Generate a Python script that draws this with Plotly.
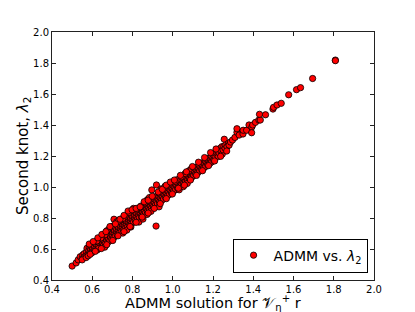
import plotly.graph_objects as go

# (ADMM solution, second knot) pairs, grouped by x range
pts_050_060 = [(0.50,0.49),(0.52,0.51),(0.53,0.53),(0.54,0.55),(0.55,0.54),(0.553,0.562),(0.56,0.57),(0.562,0.548),
               (0.57,0.56),(0.572,0.584),(0.574,0.605),(0.58,0.57),(0.583,0.592),(0.585,0.612),(0.59,0.58),(0.592,0.60),
               (0.594,0.618),(0.60,0.59),(0.601,0.608),(0.603,0.626),(0.598,0.575),(0.55,0.53),(0.57,0.545),(0.58,0.556),(0.59,0.566)]
pts_060_070 = [(0.61,0.60),(0.612,0.618),(0.614,0.637),(0.62,0.61),(0.622,0.628),(0.625,0.594),(0.63,0.62),(0.633,0.641),
               (0.636,0.657),(0.64,0.63),(0.642,0.648),(0.645,0.614),(0.65,0.64),(0.652,0.659),(0.655,0.622),(0.657,0.676),
               (0.66,0.65),(0.662,0.668),(0.665,0.634),(0.67,0.66),(0.672,0.678),(0.674,0.697),(0.677,0.643),(0.68,0.67),
               (0.682,0.688),(0.684,0.706),(0.687,0.652),(0.69,0.68),(0.692,0.698),(0.694,0.716),(0.697,0.663),(0.70,0.69),
               (0.702,0.708),(0.704,0.726),(0.706,0.673),(0.708,0.792),(0.703,0.748),(0.663,0.692),(0.643,0.671),(0.623,0.652),
               (0.632,0.603),(0.662,0.612),(0.683,0.728),(0.693,0.738),(0.673,0.718)]
pts_070_080 = [(0.71,0.70),(0.712,0.718),(0.714,0.683),(0.716,0.737),(0.72,0.71),(0.722,0.728),(0.724,0.692),(0.726,0.748),
               (0.73,0.72),(0.732,0.738),(0.734,0.703),(0.736,0.757),(0.74,0.73),(0.742,0.748),(0.744,0.712),(0.746,0.768),
               (0.75,0.74),(0.752,0.758),(0.754,0.722),(0.756,0.777),(0.76,0.75),(0.762,0.768),(0.764,0.733),(0.766,0.787),
               (0.77,0.76),(0.772,0.778),(0.774,0.742),(0.776,0.797),(0.78,0.77),(0.782,0.788),(0.784,0.752),(0.786,0.808),
               (0.79,0.78),(0.792,0.798),(0.794,0.762),(0.796,0.818),(0.80,0.79),(0.802,0.808),(0.804,0.773),(0.806,0.828),
               (0.722,0.776),(0.742,0.788),(0.762,0.808),(0.782,0.836),(0.752,0.703),(0.772,0.722),(0.792,0.742),(0.732,0.778),
               (0.73,0.78),(0.752,0.797)]
pts_080_090 = [(0.81,0.80),(0.812,0.818),(0.814,0.783),(0.816,0.838),(0.82,0.81),(0.822,0.828),(0.824,0.792),(0.805,0.862),
               (0.83,0.82),(0.832,0.838),(0.834,0.802),(0.836,0.858),(0.84,0.83),(0.842,0.848),(0.844,0.812),(0.846,0.867),
               (0.85,0.84),(0.852,0.858),(0.854,0.822),(0.856,0.877),(0.86,0.85),(0.862,0.868),(0.864,0.833),(0.866,0.887),
               (0.87,0.86),(0.872,0.878),(0.874,0.843),(0.876,0.897),(0.88,0.87),(0.882,0.888),(0.884,0.852),(0.886,0.907),
               (0.89,0.88),(0.892,0.898),(0.894,0.862),(0.896,0.917),(0.90,0.89),(0.902,0.908),(0.904,0.873),(0.906,0.927),
               (0.822,0.858),(0.842,0.877),(0.862,0.898),(0.874,0.918),(0.884,0.932),(0.832,0.774),(0.852,0.793),(0.872,0.823),
               (0.892,0.843),(0.917,0.748)]
pts_090_100 = [(0.91,0.90),(0.912,0.918),(0.914,0.883),(0.916,0.937),(0.92,0.91),(0.922,0.928),(0.924,0.892),(0.926,0.948),
               (0.93,0.92),(0.932,0.938),(0.934,0.903),(0.936,0.957),(0.94,0.93),(0.942,0.948),(0.944,0.912),(0.946,0.967),
               (0.95,0.94),(0.952,0.958),(0.954,0.922),(0.956,0.977),(0.96,0.95),(0.962,0.968),(0.964,0.933),(0.966,0.987),
               (0.97,0.96),(0.972,0.978),(0.974,0.943),(0.976,0.997),(0.98,0.97),(0.982,0.988),(0.984,0.952),(0.986,1.006),
               (0.99,0.98),(0.992,0.998),(0.994,0.962),(0.996,1.017),(1.00,0.99),(1.002,1.008),(1.004,0.973),(1.006,1.027),
               (0.919,1.013),(0.896,0.981),(0.942,0.988),(0.962,1.005),(0.932,0.872)]
pts_100_110 = [(1.01,1.00),(1.012,1.018),(1.014,0.983),(1.02,1.01),(1.022,1.028),(1.024,0.992),(1.03,1.02),(1.032,1.038),
               (1.034,1.003),(1.04,1.03),(1.042,1.048),(1.044,1.012),(1.05,1.04),(1.052,1.058),(1.054,1.022),(1.06,1.05),
               (1.062,1.068),(1.064,1.033),(1.07,1.06),(1.072,1.078),(1.074,1.043),(1.08,1.07),(1.082,1.088),(1.084,1.052),
               (1.09,1.08),(1.092,1.098),(1.094,1.062),(1.10,1.09),(1.102,1.108),(1.104,1.073),(1.022,1.047),(1.042,1.066),
               (1.062,1.087),(1.082,1.106),(1.032,0.982),(1.052,1.002),(1.072,1.023),(1.092,1.117),(1.012,1.037),(1.104,1.126)]
pts_110_120 = [(1.11,1.10),(1.112,1.118),(1.114,1.083),(1.12,1.11),(1.122,1.128),(1.124,1.092),(1.13,1.12),(1.132,1.138),
               (1.134,1.103),(1.14,1.13),(1.142,1.148),(1.144,1.112),(1.15,1.14),(1.152,1.158),(1.154,1.122),(1.16,1.15),
               (1.162,1.168),(1.164,1.133),(1.17,1.16),(1.172,1.178),(1.174,1.143),(1.18,1.17),(1.182,1.188),(1.184,1.152),
               (1.19,1.18),(1.192,1.198),(1.194,1.162),(1.20,1.19),(1.202,1.207),(1.204,1.173)]
pts_120_130 = [(1.21,1.20),(1.212,1.218),(1.219,1.221),(1.224,1.232),(1.226,1.196),(1.23,1.22),(1.236,1.25),(1.24,1.23),
               (1.244,1.26),(1.246,1.212),(1.25,1.24),(1.254,1.262),(1.256,1.308),(1.26,1.25),(1.264,1.272),(1.27,1.26),
               (1.277,1.282),(1.28,1.27),(1.287,1.29),(1.297,1.303)]
pts_tail = [(1.309,1.32),(1.319,1.353),(1.319,1.376),(1.33,1.335),(1.349,1.342),(1.350,1.366),(1.367,1.366),(1.379,1.40),
            (1.393,1.387),(1.392,1.35),(1.397,1.40),(1.411,1.417),(1.428,1.432),(1.435,1.432),(1.431,1.469),(1.461,1.466),
            (1.498,1.503),(1.501,1.514),(1.518,1.529),(1.539,1.54),(1.576,1.595),(1.615,1.628),(1.635,1.641),(1.695,1.70),
            (1.808,1.819),(1.808,1.815)]
# points along the upper and lower edges of the band
pts_edges = [(0.585,0.632),(0.605,0.648),(0.628,0.672),(0.648,0.694),(0.668,0.712),(0.688,0.745),(0.715,0.762),
             (0.738,0.792),(0.758,0.817),(0.778,0.845),(0.798,0.853),(0.818,0.862),(0.838,0.872),(0.858,0.905),
             (0.878,0.915),(0.898,0.94),(0.928,0.968),(0.948,0.985),(0.968,1.012),(0.988,1.032),(1.008,1.045),
             (1.038,1.075),(1.068,1.098),(1.098,1.132),(1.128,1.16),(1.158,1.19),(1.188,1.222),(1.215,1.245),
             (0.615,0.585),(0.645,0.603),(0.672,0.628),(0.702,0.655),(0.728,0.685),(0.758,0.712),(0.788,0.745),
             (0.818,0.772),(0.848,0.806),(0.878,0.832),(0.908,0.862),(0.938,0.893),(0.968,0.925),(0.998,0.955),
             (1.028,0.992),(1.058,1.012),(1.088,1.045),(1.118,1.075),(1.148,1.105),(1.178,1.138),(1.208,1.168),
             (1.238,1.198),(1.268,1.232)]

points = (pts_050_060 + pts_060_070 + pts_070_080 + pts_080_090 + pts_090_100
          + pts_100_110 + pts_110_120 + pts_120_130 + pts_tail + pts_edges)
admm_solution = [p[0] for p in points]
second_knot = [p[1] for p in points]

tick_vals = [0.4, 0.6, 0.8, 1.0, 1.2, 1.4, 1.6, 1.8, 2.0]
tick_text = ["0.4", "0.6", "0.8", "1.0", "1.2", "1.4", "1.6", "1.8", "2.0"]
x_title = "ADMM solution for 𝒱<sub>η</sub><sup>+</sup> r"
y_title = "Second knot, <i>λ</i><sub>2</sub>"

fig = go.Figure()
fig.add_trace(go.Scatter(
    x=admm_solution, y=second_knot, mode="markers",
    name="ADMM vs. <i>λ</i><sub>2</sub>",
    marker=dict(color="#ff0000", size=6.3, line=dict(color="black", width=0.8)),
))

axis_common = dict(
    showline=True, linecolor="#222222", linewidth=1, mirror="ticks",
    ticks="inside", ticklen=4, tickwidth=1, tickcolor="#222222",
    showgrid=False, zeroline=False, automargin=False,
    tickvals=tick_vals, ticktext=tick_text,
    tickfont=dict(family="DejaVu Sans", size=10, color="black"),
    range=[0.4, 2.0],
)
fig.update_xaxes(**axis_common)
fig.update_yaxes(**axis_common)

fig.add_annotation(text=x_title, xref="paper", yref="paper", x=0.5, y=0,
                   xanchor="center", yanchor="middle", yshift=-23, showarrow=False,
                   font=dict(family="DejaVu Sans", size=14.5, color="black"))
fig.add_annotation(text=y_title, xref="paper", yref="paper", x=0, y=0.5, textangle=-90,
                   xanchor="center", yanchor="middle", xshift=-29, showarrow=False,
                   font=dict(family="DejaVu Sans", size=15, color="black"))

# page has an 8px body margin, so the figure is sized/offset to land the plot box at the reference position
fig.update_layout(
    width=407, height=304,
    margin=dict(l=44, r=41, t=24, b=32, autoexpand=False),
    paper_bgcolor="white", plot_bgcolor="white",
    font=dict(family="DejaVu Sans", color="black"),
    showlegend=True,
    legend=dict(x=0.98, y=0.03, xanchor="right", yanchor="bottom",
                bordercolor="black", borderwidth=1, bgcolor="white",
                font=dict(family="DejaVu Sans", size=14, color="black")),
)

fig.write_html("out.html")
